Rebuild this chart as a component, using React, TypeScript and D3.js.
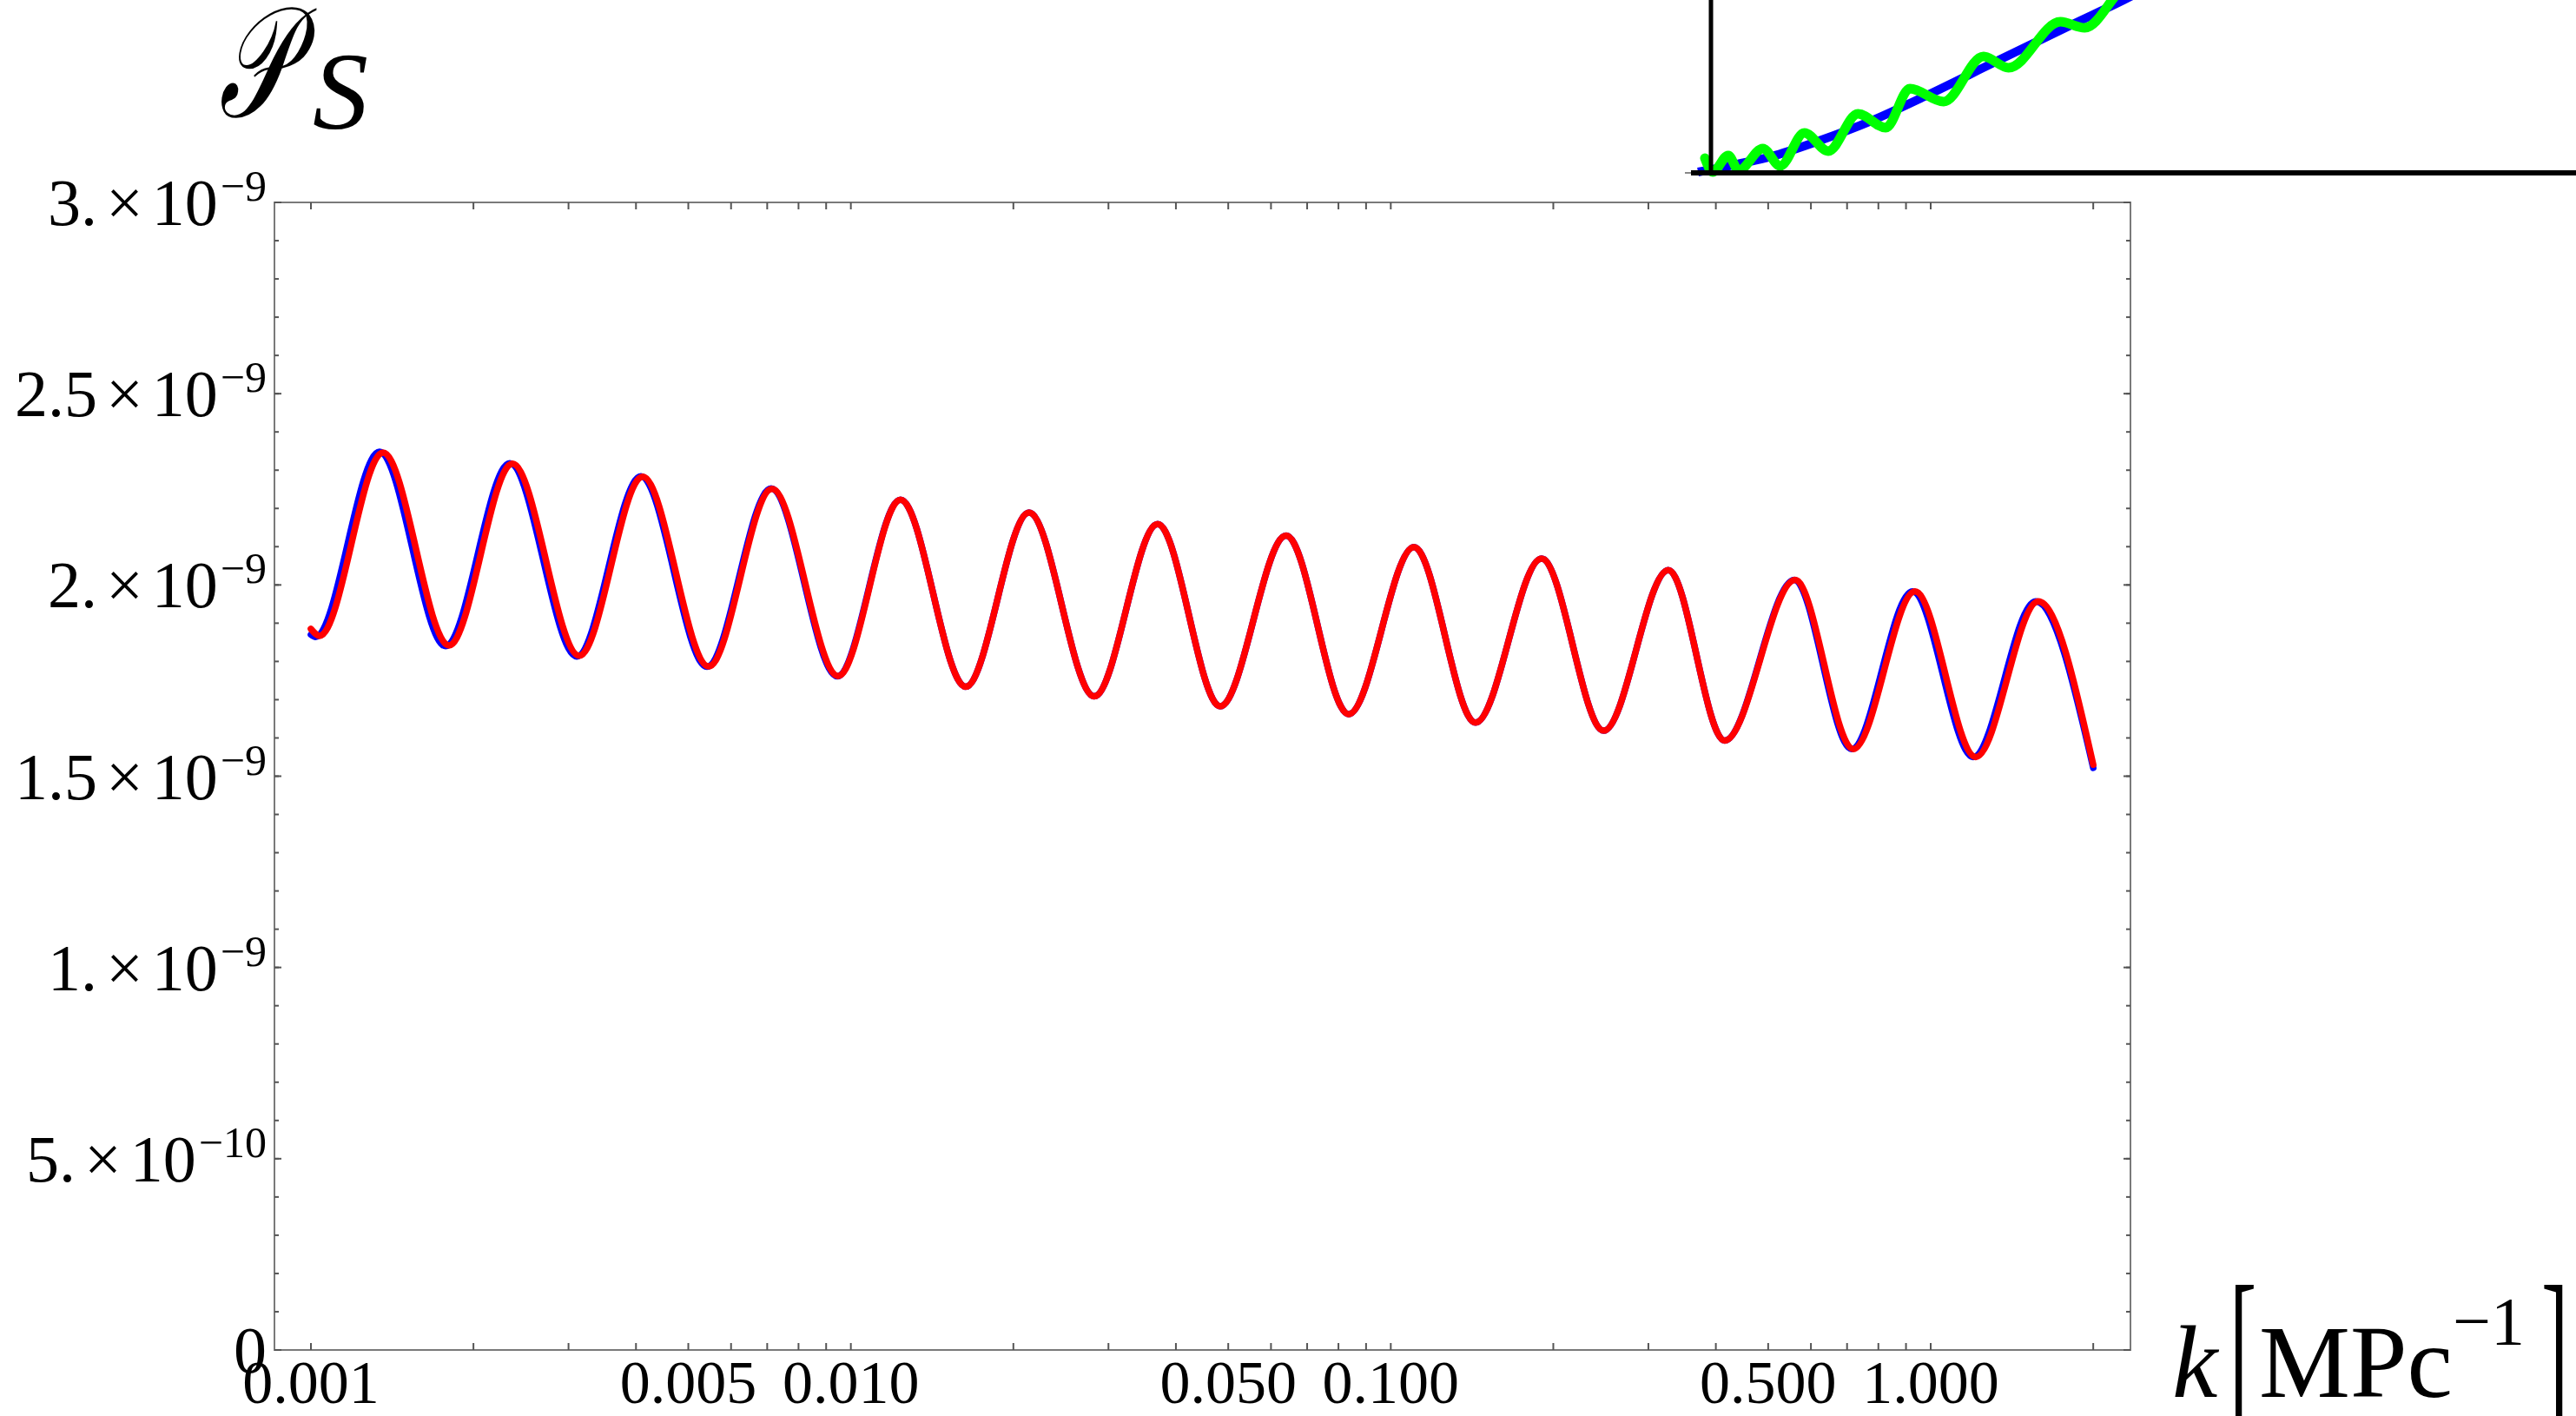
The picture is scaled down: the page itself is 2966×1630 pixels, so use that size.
import React from 'react';
import * as d3 from 'd3';

const W = 2966;
const H = 1630;

// Main plot: red series (k in Mpc^-1, P_S in units of 1e-9)
const redK = [0.001, 0.001038, 0.00136, 0.001802, 0.002361, 0.003141, 0.004115, 0.005454, 0.007144, 0.009472,
  0.01236, 0.01632, 0.02138, 0.02824, 0.03701, 0.04832, 0.06402, 0.08359, 0.1104, 0.1436,
  0.1902, 0.248, 0.3266, 0.4155, 0.5609, 0.719, 0.9352, 1.212, 1.582, 2.0];
const redP = [1.885, 1.867, 2.346, 1.842, 2.317, 1.815, 2.283, 1.787, 2.251, 1.762,
  2.223, 1.734, 2.189, 1.709, 2.159, 1.683, 2.129, 1.662, 2.099, 1.64,
  2.069, 1.619, 2.039, 1.593, 2.013, 1.571, 1.983, 1.55, 1.957, 1.53];

// Blue series
const blueK = [0.001, 0.00102, 0.00134, 0.001776, 0.002335, 0.003107, 0.004085, 0.005414, 0.007118, 0.009437,
  0.01236, 0.01632, 0.02138, 0.02824, 0.03701, 0.04832, 0.06402, 0.08359, 0.1104, 0.1436,
  0.1902, 0.248, 0.3266, 0.4155, 0.5588, 0.7137, 0.9249, 1.1987, 1.564, 2.0];
const blueP = [1.87, 1.864, 2.348, 1.84, 2.318, 1.813, 2.284, 1.786, 2.252, 1.761,
  2.223, 1.734, 2.189, 1.709, 2.159, 1.683, 2.129, 1.662, 2.099, 1.64,
  2.069, 1.619, 2.039, 1.593, 2.013, 1.571, 1.983, 1.55, 1.957, 1.522];

// Axis ticks / labels
const xLabelValues = [0.001, 0.005, 0.01, 0.05, 0.1, 0.5, 1];
const xLabelTexts = ['0.001', '0.005', '0.010', '0.050', '0.100', '0.500', '1.000'];
const yMajorValues = [0, 0.5e-9, 1e-9, 1.5e-9, 2e-9, 2.5e-9, 3e-9];
const yMantissas = ['0', '5.', '1.', '1.5', '2.', '2.5', '3.'];
const yExponents = ['', '\u221210', '\u22129', '\u22129', '\u22129', '\u22129', '\u22129'];

// Inset (cropped figure at top right), in its own unit coordinates
const insetBlueU = [-0.015, 0.03, 0.07, 0.1225, 0.186, 0.249, 0.329, 0.418, 0.477, 0.512];
const insetBlueV = [0.005, 0.05, 0.095, 0.181, 0.302, 0.447, 0.643, 0.859, 1.0, 1.09];
const insetGreenU = [-0.007, 0.002, 0.02, 0.032, 0.06, 0.08, 0.108, 0.1355, 0.17, 0.202, 0.23, 0.269, 0.315, 0.344, 0.404, 0.432, 0.472, 0.492];
const insetGreenV = [0.085, 0.005, 0.101, 0.015, 0.141, 0.04, 0.231, 0.126, 0.342, 0.261, 0.487, 0.412, 0.673, 0.608, 0.874, 0.839, 1.05, 1.15];

const FRAME = { left: 316, right: 2453, top: 233, bottom: 1554 };

export default function App() {
  const x = d3.scaleLog().domain([0.000856, 2.344]).range([FRAME.left, FRAME.right]);
  const y = d3.scaleLinear().domain([0, 3e-9]).range([FRAME.bottom, FRAME.top]);

  const line = d3.line<[number, number]>()
    .x(d => x(d[0]))
    .y(d => y(d[1] * 1e-9))
    .curve(d3.curveMonotoneX);

  const redPath = line(redK.map((k, i) => [k, redP[i]]) as [number, number][]) || '';
  const bluePath = line(blueK.map((k, i) => [k, blueP[i]]) as [number, number][]) || '';

  const xTicks = x.ticks().filter(v => v >= 0.00099 && v <= 2.01);
  const yMinor = y.ticks(30);
  const yMajor = y.ticks(6);

  const ix = d3.scaleLinear().domain([0, 1]).range([1970, 2966]);
  const iy = d3.scaleLinear().domain([0, 1]).range([199, 0]);
  const iline = d3.line<[number, number]>().x(d => ix(d[0])).y(d => iy(d[1])).curve(d3.curveMonotoneX);
  const insetBlue = iline(insetBlueU.map((u, i) => [u, insetBlueV[i]]) as [number, number][]) || '';
  const insetGreen = iline(insetGreenU.map((u, i) => [u, insetGreenV[i]]) as [number, number][]) || '';

  const serif = '"Liberation Serif", "Times New Roman", serif';
  const tickColor = '#555';

  return (
    <svg width={W} height={H} viewBox={`0 0 ${W} ${H}`}
      style={{ position: 'absolute', left: 0, top: 0, display: 'block', background: '#fff' }}>
      <rect x={0} y={0} width={W} height={H} fill="#fff" />

      {/* Inset piece */}
      <path d={insetBlue} fill="none" stroke="#0000ff" strokeWidth={10} />
      <path d={insetGreen} fill="none" stroke="#00ff00" strokeWidth={11} strokeLinecap="round" />
      <line x1={1940} x2={1948} y1={199} y2={199} stroke="#888" strokeWidth={2} />
      <line x1={1947} x2={2966} y1={199} y2={199} stroke="#000" strokeWidth={6} />
      <line x1={1970} x2={1970} y1={0} y2={202} stroke="#000" strokeWidth={5} />

      {/* Title */}
      <text transform="translate(252,134) scale(0.72,1.12)" fontFamily={serif} fontSize={160} fontStyle="italic">{'\uD835\uDCAB'}</text>
      <text x={360} y={148} fontFamily={serif} fontSize={128} fontStyle="italic">S</text>

      {/* Frame */}
      <rect x={FRAME.left} y={FRAME.top} width={FRAME.right - FRAME.left} height={FRAME.bottom - FRAME.top}
        fill="none" stroke="#7a7a7a" strokeWidth={2} />

      {/* X ticks bottom & top */}
      {xTicks.map((v, i) => (
        <g key={'xt' + i}>
          <line x1={x(v)} x2={x(v)} y1={FRAME.bottom} y2={FRAME.bottom - 8} stroke={tickColor} strokeWidth={2} />
          <line x1={x(v)} x2={x(v)} y1={FRAME.top} y2={FRAME.top + 8} stroke={tickColor} strokeWidth={2} />
        </g>
      ))}
      {/* Y ticks left & right */}
      {yMinor.map((v, i) => (
        <g key={'ym' + i}>
          <line x1={FRAME.left} x2={FRAME.left + 5} y1={y(v)} y2={y(v)} stroke={tickColor} strokeWidth={2} />
          <line x1={FRAME.right} x2={FRAME.right - 5} y1={y(v)} y2={y(v)} stroke={tickColor} strokeWidth={2} />
        </g>
      ))}
      {yMajor.map((v, i) => (
        <g key={'yM' + i}>
          <line x1={FRAME.left} x2={FRAME.left + 8} y1={y(v)} y2={y(v)} stroke={tickColor} strokeWidth={2} />
          <line x1={FRAME.right} x2={FRAME.right - 8} y1={y(v)} y2={y(v)} stroke={tickColor} strokeWidth={2} />
        </g>
      ))}

      {/* Curves */}
      <path d={bluePath} fill="none" stroke="#0000ff" strokeWidth={7.5} strokeLinecap="round" strokeLinejoin="round" />
      <path d={redPath} fill="none" stroke="#ff0000" strokeWidth={7.5} strokeLinecap="round" strokeLinejoin="round" />

      {/* X labels */}
      {xLabelValues.map((v, i) => (
        <text key={'xl' + i} x={x(v)} y={1615} fontFamily={serif} fontSize={70} textAnchor="middle">{xLabelTexts[i]}</text>
      ))}

      {/* Y labels */}
      {yMajorValues.map((v, i) => (
        <text key={'yl' + i} x={307} y={y(v) + 26} fontFamily={serif} fontSize={76} textAnchor="end">
          {yExponents[i] === '' ? yMantissas[i] : (
            <>
              <tspan>{yMantissas[i]}</tspan>
              <tspan dx={10}>{'\u00D7'}</tspan>
              <tspan dx={10}>10</tspan>
              <tspan dx={3} dy={-28} fontSize={50}>{yExponents[i]}</tspan>
            </>
          )}
        </text>
      ))}

      {/* X axis title */}
      <text x={2501} y={1608} fontFamily={serif} fontSize={118} fontStyle="italic">k</text>
      <text transform="translate(2567,1617) scale(0.75,1.6)" fontFamily={serif} fontSize={125}>[</text>
      <text x={2601} y={1608} fontFamily={serif} fontSize={118}>MPc</text>
      <text x={2824} y={1547} fontFamily={serif} fontSize={78}>{'\u22121'}</text>
      <text transform="translate(2926,1617) scale(0.75,1.6)" fontFamily={serif} fontSize={125}>]</text>
    </svg>
  );
}
